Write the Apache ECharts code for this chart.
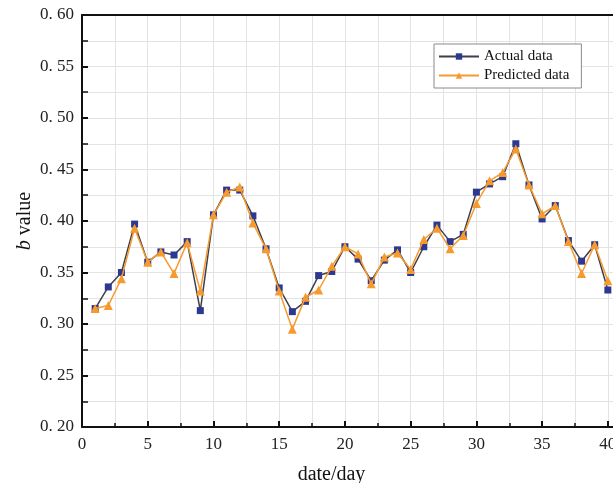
<!DOCTYPE html>
<html>
<head>
<meta charset="utf-8">
<script src="https://cdn.jsdelivr.net/npm/echarts@6/dist/echarts.min.js"></script>
<style>
  html, body { margin: 0; padding: 0; background: #fff; }
  #chart { width: 613px; height: 483px; }
</style>
</head>
<body>
<div id="chart"></div>
<script>
// days on the x axis
const days = [1, 2, 3, 4, 5, 6, 7, 8, 9, 10, 11, 12, 13, 14, 15, 16, 17, 18, 19, 20,
  21, 22, 23, 24, 25, 26, 27, 28, 29, 30, 31, 32, 33, 34, 35, 36, 37, 38, 39, 40]

// b values
const actual = [0.315, 0.336, 0.350, 0.397, 0.360, 0.370, 0.367, 0.380, 0.313, 0.406,
  0.430, 0.430, 0.405, 0.373, 0.335, 0.312, 0.322, 0.347, 0.351, 0.375,
  0.363, 0.342, 0.362, 0.372, 0.350, 0.375, 0.396, 0.380, 0.387, 0.428,
  0.436, 0.443, 0.475, 0.435, 0.402, 0.415, 0.381, 0.361, 0.377, 0.333]
const predicted = [0.315, 0.318, 0.344, 0.393, 0.360, 0.370, 0.349, 0.379, 0.332, 0.406,
  0.428, 0.433, 0.398, 0.373, 0.332, 0.295, 0.326, 0.333, 0.356, 0.375,
  0.368, 0.339, 0.365, 0.369, 0.353, 0.382, 0.393, 0.373, 0.386, 0.417,
  0.439, 0.447, 0.470, 0.435, 0.407, 0.415, 0.380, 0.349, 0.377, 0.342]

const serif = "'Liberation Serif', 'Times New Roman', serif"
const gridColor = '#e3e3e3'

const chart = echarts.init(document.getElementById('chart'))

const option = {
  animation: false,
  textStyle: { fontFamily: serif },
  grid: {
    left: 82,
    right: -8,
    top: 15,
    bottom: 56,
    outerBoundsMode: 'none',
    containLabel: false,
  },
  legend: {
    orient: 'vertical',
    left: 434,
    top: 44,
    padding: [5, 12, 5, 4],
    itemGap: 4,
    itemWidth: 40,
    itemHeight: 8,
    backgroundColor: '#fff',
    borderColor: '#8a8a8a',
    borderWidth: 1,
    textStyle: {
      fontFamily: serif,
      fontSize: 15,
      color: '#111',
    },
    data: ['Actual data', 'Predicted data'],
  },
  xAxis: [
    {
      type: 'value',
      min: 0,
      max: 41,
      interval: 5,
      name: 'date/day',
      nameLocation: 'middle',
      nameGap: 38,
      nameTextStyle: {
        fontFamily: serif,
        fontSize: 20,
        color: '#111',
        padding: [0, 40, 0, 0],
      },
      axisLine: { lineStyle: { color: '#111', width: 2 } },
      axisTick: { inside: true, length: 6, lineStyle: { color: '#111', width: 2 } },
      minorTick: { show: true, splitNumber: 2, length: 4, lineStyle: { color: '#111', width: 1.5 } },
      axisLabel: {
        fontFamily: serif,
        fontSize: 17,
        color: '#222',
        margin: 9,
        formatter: (v) => (v % 5 === 0 && v <= 40 ? String(v) : ''),
      },
      splitLine: { show: true, lineStyle: { color: gridColor, width: 1 } },
      minorSplitLine: { show: true, lineStyle: { color: gridColor, width: 1 } },
    },
    {
      // top frame line
      type: 'value',
      position: 'top',
      min: 0,
      max: 41,
      axisLine: { show: true, lineStyle: { color: '#111', width: 2 } },
      axisTick: { show: false },
      axisLabel: { show: false },
      splitLine: { show: false },
    },
  ],
  yAxis: {
    type: 'value',
    min: 0.2,
    max: 0.6,
    interval: 0.05,
    name: '{i|b} value',
    nameLocation: 'middle',
    nameGap: 47,
    nameMoveOverlap: false,
    nameTextStyle: {
      fontFamily: serif,
      fontSize: 20,
      color: '#111',
      rich: {
        i: { fontFamily: serif, fontSize: 20, fontStyle: 'italic', color: '#111' },
      },
    },
    axisLine: { show: true, lineStyle: { color: '#111', width: 2 } },
    axisTick: { inside: true, length: 6, lineStyle: { color: '#111', width: 2 } },
    minorTick: { show: true, splitNumber: 2, length: 6, lineStyle: { color: '#111', width: 1.5 } },
    axisLabel: {
      fontFamily: serif,
      fontSize: 17,
      color: '#222',
      margin: 8,
      formatter: (v) => v.toFixed(2).replace('.', '. '),
    },
    splitLine: { show: true, lineStyle: { color: gridColor, width: 1 } },
    minorSplitLine: { show: true, lineStyle: { color: gridColor, width: 1 } },
  },
  series: [
    {
      name: 'Actual data',
      type: 'line',
      data: days.map((d, i) => [d, actual[i]]),
      symbol: 'rect',
      symbolSize: 7,
      lineStyle: { color: '#3d3f4a', width: 1.5 },
      itemStyle: { color: '#2d3990' },
      z: 2,
    },
    {
      name: 'Predicted data',
      type: 'line',
      data: days.map((d, i) => [d, predicted[i]]),
      symbol: 'triangle',
      symbolSize: 9,
      lineStyle: { color: '#f79a2e', width: 1.5 },
      itemStyle: { color: '#f79a2e' },
      z: 3,
    },
  ],
}

chart.setOption(option)
</script>
</body>
</html>
